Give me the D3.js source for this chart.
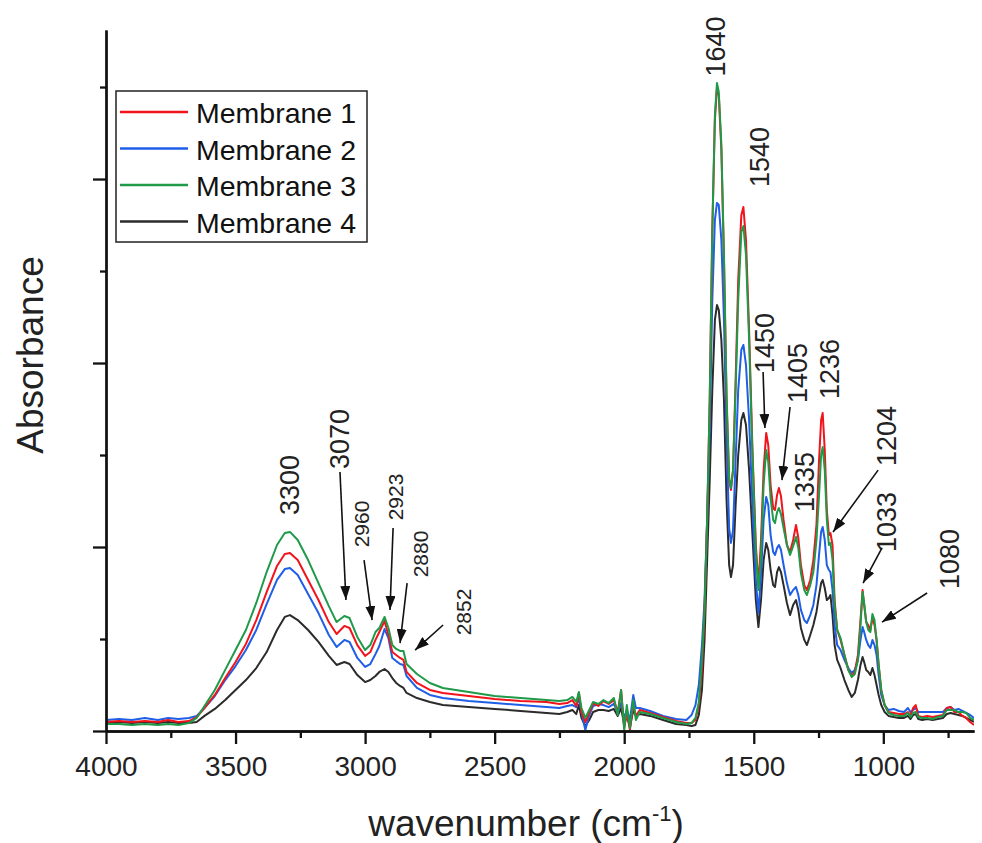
<!DOCTYPE html>
<html>
<head>
<meta charset="utf-8">
<script src="https://cdn.jsdelivr.net/npm/d3@7"></script>
<style>
  html, body { margin: 0; padding: 0; background: #fff; }
  svg { display: block; }
  text { font-family: Arial, "Liberation Sans", sans-serif; }
</style>
</head>
<body>
<svg id="chart" width="982" height="843"></svg>
<script>
// FTIR spectra of four membranes (absorbance, arbitrary units)
const wavenumbers = [4000,3950,3900,3850,3800,3760,3720,3680,3650,3620,3580,3540,3500,3460,3420,3380,3340,3310,3290,3260,3220,3180,3140,3110,3080,3060,3030,3000,2980,2960,2945,2925,2910,2895,2880,2865,2852,2840,2800,2750,2700,2600,2500,2400,2300,2250,2220,2200,2185,2175,2165,2150,2135,2120,2100,2080,2060,2040,2025,2012,2000,1990,1978,1965,1955,1940,1900,1850,1800,1760,1740,1725,1712,1700,1690,1680,1670,1660,1650,1642,1635,1625,1615,1605,1595,1588,1580,1570,1560,1548,1540,1530,1518,1505,1492,1482,1472,1462,1452,1444,1435,1425,1418,1410,1403,1395,1385,1372,1360,1348,1337,1328,1318,1305,1295,1282,1270,1258,1248,1240,1234,1226,1218,1210,1204,1196,1188,1178,1165,1150,1135,1122,1110,1098,1088,1080,1074,1066,1058,1050,1042,1034,1026,1018,1008,995,980,960,940,920,905,895,885,875,865,850,830,810,790,770,755,740,725,710,695,680,665,650];

const membrane1 = [.049,.054,.049,.054,.049,.060,.049,.054,.076,.125,.196,.288,.375,.473,.603,.755,.897,.962,.967,.929,.821,.712,.592,.527,.571,.560,.467,.408,.429,.495,.538,.598,.522,.429,.413,.397,.386,.321,.261,.223,.207,.190,.174,.163,.158,.147,.152,.168,.136,.207,.103,.049,.098,.152,.136,.163,.147,.168,.103,.223,.016,.103,.005,.147,.082,.114,.098,.076,.054,.043,.043,.060,.141,.332,.658,1.147,1.799,2.723,3.321,3.495,3.457,3.158,2.560,1.799,1.364,1.310,1.418,1.908,2.451,2.804,2.848,2.668,2.179,1.527,1.011,.793,1.038,1.418,1.620,1.554,1.337,1.212,1.201,1.283,1.321,1.277,1.147,1.011,.973,1.038,1.120,1.049,.902,.793,.766,.821,.929,1.120,1.473,1.690,1.728,1.527,1.201,1.065,1.076,1.011,.712,.549,.495,.413,.332,.299,.321,.413,.603,.766,.685,.592,.576,.549,.614,.576,.495,.359,.223,.141,.103,.098,.092,.092,.103,.082,.125,.141,.082,.076,.082,.076,.082,.087,.125,.130,.103,.103,.082,.071,.049,.033];

const membrane2 = [.060,.065,.060,.071,.060,.071,.065,.071,.082,.125,.190,.277,.353,.440,.549,.690,.821,.880,.886,.848,.745,.641,.522,.457,.495,.484,.397,.348,.364,.418,.462,.554,.505,.397,.380,.364,.359,.299,.234,.196,.179,.163,.152,.141,.130,.125,.136,.141,.130,.179,.103,.005,.087,.136,.147,.141,.130,.147,.103,.152,.071,.114,.060,.196,.125,.125,.109,.082,.065,.060,.087,.141,.250,.467,.712,1.147,1.636,2.342,2.777,2.870,2.859,2.668,2.234,1.582,1.103,1.022,1.092,1.473,1.853,2.071,2.098,1.989,1.690,1.228,.821,.641,.848,1.147,1.272,1.228,1.065,.973,.957,.995,1.011,.984,.902,.804,.739,.766,.783,.739,.658,.603,.587,.630,.685,.793,.957,1.082,1.109,1.038,.902,.875,.864,.766,.576,.467,.440,.386,.342,.315,.332,.386,.495,.565,.538,.495,.467,.451,.495,.467,.413,.304,.196,.141,.114,.120,.109,.103,.125,.103,.114,.125,.103,.103,.103,.103,.103,.103,.125,.130,.114,.120,.109,.098,.087,.071];

const membrane3 = [.038,.038,.033,.038,.033,.038,.033,.043,.071,.136,.223,.332,.440,.549,.696,.864,1.011,1.076,1.082,1.038,.929,.804,.679,.592,.625,.614,.511,.440,.467,.538,.560,.620,.560,.467,.446,.435,.435,.364,.310,.261,.234,.212,.190,.179,.168,.163,.168,.185,.158,.212,.125,.071,.114,.158,.147,.168,.152,.179,.087,.223,.005,.141,.016,.168,.060,.103,.092,.071,.049,.038,.043,.071,.158,.386,.658,1.147,1.799,2.723,3.348,3.522,3.473,3.185,2.587,1.826,1.375,1.321,1.418,1.853,2.342,2.712,2.745,2.587,2.125,1.500,.984,.766,.957,1.337,1.527,1.462,1.266,1.147,1.130,1.190,1.212,1.179,1.103,1.011,.957,1.005,1.054,.995,.859,.766,.739,.793,.864,1.038,1.283,1.500,1.543,1.418,1.147,1.011,1.022,.929,.685,.549,.505,.413,.332,.293,.310,.386,.576,.755,.696,.592,.549,.538,.636,.603,.495,.359,.223,.141,.098,.087,.082,.082,.098,.076,.098,.103,.076,.071,.071,.065,.076,.082,.114,.114,.114,.103,.103,.098,.071,.060];

const membrane4 = [.043,.049,.043,.049,.043,.049,.043,.043,.049,.082,.120,.168,.223,.277,.342,.429,.549,.620,.630,.603,.549,.484,.408,.359,.375,.364,.304,.266,.277,.299,.321,.337,.321,.288,.261,.245,.234,.207,.179,.158,.141,.130,.120,.109,.098,.092,.103,.114,.092,.141,.071,.027,.060,.103,.114,.114,.109,.120,.082,.125,.033,.087,.022,.114,.082,.092,.082,.060,.038,.033,.027,.033,.087,.223,.495,.929,1.364,1.853,2.234,2.315,2.288,2.125,1.799,1.255,.902,.837,.902,1.228,1.500,1.690,1.728,1.663,1.418,1.065,.712,.565,.712,.929,1.022,.984,.875,.793,.783,.864,.891,.864,.793,.696,.630,.685,.712,.658,.560,.495,.467,.522,.576,.647,.739,.804,.821,.777,.712,.723,.739,.630,.467,.386,.342,.277,.223,.185,.207,.277,.359,.402,.375,.332,.321,.304,.342,.304,.250,.196,.141,.103,.082,.076,.071,.071,.082,.065,.087,.092,.065,.060,.065,.060,.065,.071,.092,.098,.092,.087,.082,.071,.060,.049];

const seriesNames = ["Membrane 1", "Membrane 2", "Membrane 3", "Membrane 4"];
const seriesColors = ["#f2131b", "#1f5ee6", "#1e9a48", "#2b2b2b"];

const xMajorTicks = [4000, 3500, 3000, 2500, 2000, 1500, 1000];
const xMinorTicks = [3750, 3250, 2750, 2250, 1750, 1250, 750];
const yMajorTicks = [0, 1, 2, 3];
const yMinorTicks = [0.5, 1.5, 2.5, 3.5];

// Band assignments: label anchor (wavenumber, absorbance) and font size
const bandLabels = [
  { text: "3300", wn: 3290, a: 1.337, size: 27 },
  { text: "3070", wn: 3097, a: 1.587, size: 27 },
  { text: "2960", wn: 3012, a: 1.125, size: 21 },
  { text: "2923", wn: 2881, a: 1.272, size: 21 },
  { text: "2880", wn: 2788, a: 0.962, size: 21 },
  { text: "2852", wn: 2622, a: 0.647, size: 21 },
  { text: "1640", wn: 1646, a: 3.72, size: 27 },
  { text: "1540", wn: 1476, a: 3.12, size: 27 },
  { text: "1450", wn: 1457, a: 2.109, size: 27 },
  { text: "1405", wn: 1329, a: 1.946, size: 27 },
  { text: "1236", wn: 1206, a: 1.967, size: 27 },
  { text: "1335", wn: 1302, a: 1.353, size: 27 },
  { text: "1204", wn: 986, a: 1.603, size: 27 },
  { text: "1033", wn: 986, a: 1.136, size: 27 },
  { text: "1080", wn: 743, a: 0.935, size: 27 }
];

// Pointer arrows: from (wavenumber, absorbance) to (wavenumber, absorbance)
const bandArrows = [
  { from: [3097, 1.408], to: [3074, 0.712] },
  { from: [3004, 0.929], to: [2973, 0.603] },
  { from: [2892, 1.103], to: [2904, 0.658] },
  { from: [2838, 0.804], to: [2865, 0.478] },
  { from: [2699, 0.576], to: [2807, 0.440] },
  { from: [1464, 1.951], to: [1457, 1.647] },
  { from: [1360, 1.761], to: [1391, 1.364] },
  { from: [1020, 1.418], to: [1194, 1.082] },
  { from: [1005, 0.995], to: [1078, 0.804] },
  { from: [831, 0.750], to: [1005, 0.592] }
];

const svg = d3.select("#chart");
const plotLeft = 106, plotRight = 974, plotTop = 30, plotBottom = 731;

const x = d3.scaleLinear().domain([4000, 650]).range([plotLeft, plotRight]);
const y = d3.scaleLinear().domain([0, 3.81]).range([plotBottom, plotTop]);

const defs = svg.append("defs");
defs.append("clipPath").attr("id", "plotClip")
  .append("rect").attr("x", plotLeft).attr("y", plotTop - 5)
  .attr("width", plotRight - plotLeft).attr("height", plotBottom - plotTop + 4);

defs.append("marker")
  .attr("id", "arrowHead")
  .attr("viewBox", "0 0 14 10")
  .attr("refX", 14).attr("refY", 5)
  .attr("markerWidth", 14).attr("markerHeight", 10)
  .attr("markerUnits", "userSpaceOnUse")
  .attr("orient", "auto")
  .append("path").attr("d", "M0,0 L14,5 L0,10 Z").attr("fill", "#111");

// spectra
const allSeries = [membrane1, membrane2, membrane3, membrane4];
const drawOrder = [3, 1, 0, 2];
const line = d3.line()
  .x(d => x(d[0]))
  .y(d => y(d[1]));

const plot = svg.append("g").attr("clip-path", "url(#plotClip)");
drawOrder.forEach(i => {
  const pts = wavenumbers.map((w, k) => [w, allSeries[i][k]]);
  plot.append("path")
    .datum(pts)
    .attr("fill", "none")
    .attr("stroke", seriesColors[i])
    .attr("stroke-width", 2)
    .attr("stroke-linejoin", "round")
    .attr("d", line);
});

// axes
const axisColor = "#111";
function styleAxis(g) {
  g.selectAll(".domain").attr("stroke", axisColor).attr("stroke-width", 2.3);
  g.selectAll(".tick line").attr("stroke", axisColor).attr("stroke-width", 2.3);
}

const xAxisMajor = svg.append("g").attr("transform", `translate(0,${plotBottom})`)
  .call(d3.axisBottom(x).tickValues(xMajorTicks).tickSize(13).tickSizeOuter(0).tickPadding(12).tickFormat(d3.format("d")));
styleAxis(xAxisMajor);
xAxisMajor.selectAll(".tick text")
  .attr("font-size", 28).attr("fill", "#222");

const xAxisMinor = svg.append("g").attr("transform", `translate(0,${plotBottom})`)
  .call(d3.axisBottom(x).tickValues(xMinorTicks).tickSize(7).tickSizeOuter(0).tickFormat(""));
styleAxis(xAxisMinor);

const yAxisMajor = svg.append("g").attr("transform", `translate(${plotLeft},0)`)
  .call(d3.axisLeft(y).tickValues(yMajorTicks).tickSize(13).tickSizeOuter(0).tickFormat(""));
styleAxis(yAxisMajor);
const yAxisMinor = svg.append("g").attr("transform", `translate(${plotLeft},0)`)
  .call(d3.axisLeft(y).tickValues(yMinorTicks).tickSize(6).tickSizeOuter(0).tickFormat(""));
styleAxis(yAxisMinor);

// axis titles
svg.append("text")
  .attr("transform", "translate(43,355) rotate(-90)")
  .attr("text-anchor", "middle")
  .attr("font-size", 37).attr("fill", "#222")
  .text("Absorbance");

const xTitle = svg.append("text")
  .attr("x", 526).attr("y", 836)
  .attr("text-anchor", "middle")
  .attr("font-size", 37).attr("fill", "#222");
xTitle.append("tspan").text("wavenumber (cm");
xTitle.append("tspan").attr("font-size", 22).attr("dy", -15).text("-1");
xTitle.append("tspan").attr("dy", 15).text(")");

// band labels
svg.append("g").selectAll("text")
  .data(bandLabels).join("text")
  .attr("transform", d => `translate(${x(d.wn)},${y(d.a)}) rotate(-90)`)
  .attr("text-anchor", "middle")
  .attr("dominant-baseline", "central")
  .attr("font-size", d => d.size)
  .attr("fill", "#222")
  .text(d => d.text);

svg.append("g").selectAll("line")
  .data(bandArrows).join("line")
  .attr("x1", d => x(d.from[0])).attr("y1", d => y(d.from[1]))
  .attr("x2", d => x(d.to[0])).attr("y2", d => y(d.to[1]))
  .attr("stroke", "#111").attr("stroke-width", 1.6)
  .attr("marker-end", "url(#arrowHead)");

// legend
const legend = svg.append("g");
legend.append("rect")
  .attr("x", 116).attr("y", 91).attr("width", 251).attr("height", 151)
  .attr("fill", "#fff").attr("stroke", "#222").attr("stroke-width", 1.5);
seriesNames.forEach((name, i) => {
  const ly = 112 + i * 36.5;
  legend.append("line")
    .attr("x1", 120).attr("x2", 188).attr("y1", ly).attr("y2", ly)
    .attr("stroke", seriesColors[i]).attr("stroke-width", 2.5);
  legend.append("text")
    .attr("x", 196).attr("y", ly + 1)
    .attr("dominant-baseline", "central")
    .attr("font-size", 28.5).attr("fill", "#111")
    .text(name);
});
</script>
</body>
</html>
